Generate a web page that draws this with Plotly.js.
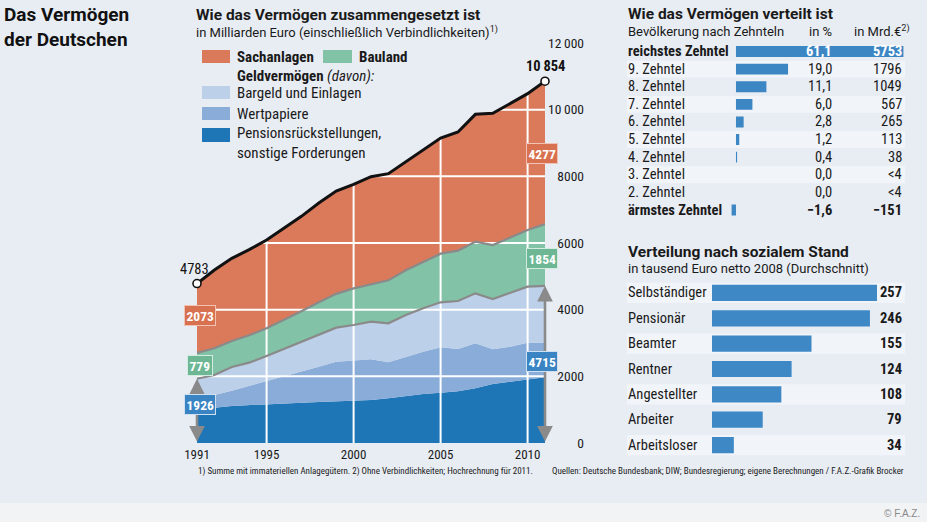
<!DOCTYPE html>
<html><head><meta charset="utf-8">
<script src="https://cdn.plot.ly/plotly-3.0.1.min.js"></script>
<style>html,body{margin:0;padding:0;background:#e8edf4;}#chart{width:927px;height:522px;}</style>
</head><body><div id="chart"></div>
<script>
// ---------- data ----------
const years = [1991,1992,1993,1994,1995,1996,1997,1998,1999,2000,2001,2002,2003,2004,2005,2006,2007,2008,2009,2010,2011];
const pensions    = [970,1060,1110,1140,1170,1190,1210,1230,1250,1260,1290,1340,1410,1470,1510,1550,1640,1770,1840,1910,1970];
const wertpapiere = [370,380,460,570,700,810,930,1060,1190,1220,1220,1080,1180,1270,1360,1270,1350,1040,1050,1100,1040];
const bargeld     = [586,600,710,700,740,820,890,960,1020,1060,1130,1170,1250,1300,1350,1440,1500,1510,1620,1680,1705];
const bauland     = [779,800,780,820,830,870,920,970,1015,1100,1120,1290,1340,1400,1460,1510,1550,1620,1660,1700,1854];
const sachanlagen = [2078,2350,2480,2570,2650,2750,2850,2980,3085,3120,3230,3200,3260,3360,3470,3560,3820,3950,4020,4090,4285];
const total       = [4783,5190,5540,5800,6090,6440,6800,7200,7560,7760,7990,8080,8440,8800,9150,9330,9860,9890,10190,10480,10854];
const startLabels = {sach:'2073', bau:'779', geld:'1926', total:'4783'};
const endLabels   = {sach:'4277', bau:'1854', geld:'4715', total:'10\u2009854'};
const xTicks = [1991,1995,2000,2005,2010];
const yTicks = [0,2000,4000,6000,8000,10000,12000];
const yTickText = ['0','2000','4000','6000','8000','10\u2009000','12\u2009000'];

const deciles = ['reichstes Zehntel','9. Zehntel','8. Zehntel','7. Zehntel','6. Zehntel','5. Zehntel','4. Zehntel','3. Zehntel','2. Zehntel','ärmstes Zehntel'];
const decilePct = [61.1,19.0,11.1,6.0,2.8,1.2,0.4,0.0,0.0,-1.6];
const decilePctText = ['61,1','19,0','11,1','6,0','2,8','1,2','0,4','0,0','0,0','\u22121,6'];
const decileMrdText = ['5753','1796','1049','567','265','113','38','&lt;4','&lt;4','\u2212151'];

const groups = ['Selbständiger','Pensionär','Beamter','Rentner','Angestellter','Arbeiter','Arbeitsloser'];
const groupValues = [257,246,155,124,108,79,34];

// ---------- styling ----------
const W = 927, H = 522;
const BG = '#e8edf4';
const COND = "'Roboto Condensed', Roboto, sans-serif";
const ROB = "Roboto, sans-serif";
const TXT = '#1a1a1a';
const C = {sach:'#db7a5b', bau:'#82c2a6', bar:'#bdd0e9', wp:'#89acd8', pen:'#1f76b6'};
const px = v => v / W;
const py = v => 1 - v / H;
const last = years.length - 1;
const yTop = yTicks[yTicks.length - 1];

const traces = [];
// stacked areas
[[pensions,C.pen],[wertpapiere,C.wp],[bargeld,C.bar],[bauland,C.bau],[sachanlagen,C.sach]].forEach(([v,c])=>{
  traces.push({x:years, y:v, type:'scatter', mode:'lines', stackgroup:'areas', line:{width:0}, fillcolor:c, hoverinfo:'skip'});
});
// white grid lines over the areas
xTicks.slice(1).forEach(v=>traces.push({x:[v,v], y:[0,yTop], type:'scatter', mode:'lines', line:{color:'#ffffff', width:2}, hoverinfo:'skip'}));
yTicks.slice(1,-1).forEach(v=>traces.push({x:[years[0],years[last]], y:[v,v], type:'scatter', mode:'lines', line:{color:'#ffffff', width:2}, hoverinfo:'skip'}));
// mask above the total so grid only shows inside the areas
traces.push({x:years, y:total, type:'scatter', mode:'lines', line:{width:0}, hoverinfo:'skip'});
traces.push({x:years, y:years.map(()=>yTop), type:'scatter', mode:'lines', line:{width:0}, fill:'tonexty', fillcolor:BG, hoverinfo:'skip'});
// outline lines
[[pensions,0,'#000'],[wertpapiere,0,'#000'],[bargeld,2.2,'#8a8a8a'],[bauland,2.2,'#8a8a8a'],[sachanlagen,3,'#111']].forEach(([v,w,c])=>{
  traces.push({x:years, y:v, type:'scatter', mode:'lines', stackgroup:'outline', fill:'none', line:{width:w, color:c}, cliponaxis:false, hoverinfo:'skip'});
});
traces.push({x:[years[0],years[last]], y:[total[0],total[last]], type:'scatter', mode:'markers', cliponaxis:false,
  marker:{size:8, color:'#ffffff', line:{color:'#111', width:1.6}}, hoverinfo:'skip'});
// dummy trace for the label axis
traces.push({x:[years[0]], y:[0], xaxis:'x', yaxis:'y2', type:'scatter', mode:'markers', marker:{opacity:0}, hoverinfo:'skip'});

// decile bars
traces.push({type:'bar', orientation:'h', x:decilePct, y:deciles.map((_,i)=>i), xaxis:'x2', yaxis:'y3',
  marker:{color:'#3d86c4'}, width:0.62, hoverinfo:'skip'});
// social groups bars
traces.push({type:'bar', orientation:'h', x:groupValues, y:groups.map((_,i)=>i), xaxis:'x3', yaxis:'y4',
  marker:{color:'#3e88c6'}, width:0.64, hoverinfo:'skip'});

// ---------- shapes ----------
const shapes = [];
shapes.push({type:'rect', xref:'paper', yref:'paper', x0:0, x1:1, y0:0, y1:py(503), fillcolor:'#f2f3f5', line:{width:0}, layer:'below'});
deciles.forEach((_,i)=>{ if(i%2===1 && i<9) shapes.push({type:'rect', xref:'paper', yref:'y3', x0:px(627), x1:px(905), y0:i-0.48, y1:i+0.48, fillcolor:'#f1f4f9', line:{width:0}, layer:'below'}); });
groups.forEach((_,i)=>{ if(i%2===0) shapes.push({type:'rect', xref:'paper', yref:'y4', x0:px(627), x1:px(905), y0:i-0.4, y1:i+0.4, fillcolor:'#f1f4f9', line:{width:0}, layer:'below'}); });
const sw = (x0,y0,x1,y1,c)=>shapes.push({type:'rect', xref:'paper', yref:'paper', x0:px(x0), x1:px(x1), y0:py(y1), y1:py(y0), fillcolor:c, line:{width:0}, layer:'above'});
sw(202,50,230,63,C.sach); sw(323,50,352,63,C.bau);
sw(202,86,230,99,C.bar); sw(202,107,230,120,C.wp); sw(202,128,230,142,C.pen);

// ---------- annotations ----------
const ann = [];
const T = (text, x, y, o={}) => ann.push(Object.assign({text, xref:'paper', yref:'paper', x:px(x), y:py(y), xanchor:'left', yanchor:'middle', align:'left', showarrow:false,
  font:{family:COND, size:14.5, color:TXT}}, o));
// page title
T('<b>Das Vermögen<br>der Deutschen</b>', 2, 1, {yanchor:'top', font:{family:ROB, size:19, color:'#111'}});
// main chart titles
T('<b>Wie das Vermögen zusammengesetzt ist</b>', 194, 15, {font:{family:ROB, size:15.5, color:TXT}});
T('in Milliarden Euro (einschließlich Verbindlichkeiten)<sup>1)</sup>', 194, 32, {font:{family:ROB, size:13, color:TXT}});
// legend
T('<b>Sachanlagen</b>', 235, 57, {font:{family:COND, size:15, color:TXT}});
T('<b>Bauland</b>', 357, 57, {font:{family:COND, size:15, color:TXT}});
T('<b>Geldvermögen</b> <i>(davon):</i>', 235, 76, {font:{family:COND, size:15, color:TXT}});
T('Bargeld und Einlagen', 235, 93, {font:{family:COND, size:15, color:TXT}});
T('Wertpapiere', 235, 114, {font:{family:COND, size:15, color:TXT}});
T('Pensionsrückstellungen,<br>sonstige Forderungen', 235, 143, {font:{family:COND, size:15, color:TXT}});

// arrows for Geldvermögen
const geld0 = pensions[0]+wertpapiere[0]+bargeld[0];
const geldN = pensions[last]+wertpapiere[last]+bargeld[last];
[[years[0],geld0],[years[last],geldN]].forEach(([x,y])=>ann.push({x, y, ax:x, ay:0, xref:'x', yref:'y', axref:'x', ayref:'y', text:'', showarrow:true,
  arrowhead:2, arrowside:'end+start', arrowsize:1.2, arrowwidth:2.6, arrowcolor:'#8a8a8a', standoff:0, startstandoff:0}));

const box = (text, x, y, bg, bc, xs, ys) => ann.push({text:'<b>'+text+'</b>', x, y, xref:'x', yref:'y', showarrow:false, xshift:xs, yshift:ys,
  font:{family:COND, size:13.5, color:'#ffffff'}, bgcolor:bg, bordercolor:bc, borderwidth:1, borderpad:1.5});
const bauTop0 = geld0 + bauland[0], bauTopN = geldN + bauland[last];
box(startLabels.sach, years[0], bauTop0 + sachanlagen[0]/2, '#d8714f', '#f2c3b2', 3, 3);
box(startLabels.bau, years[0], geld0 + bauland[0]/2, '#6db795', '#d3ece1', 3, 0);
box(startLabels.geld, years[0], geld0/2, '#3a84c4', '#cfe0f1', 3, 6);
box(endLabels.sach, years[last], bauTopN + sachanlagen[last]/2, '#d8714f', '#f2c3b2', -3, -1);
box(endLabels.bau, years[last], geldN + bauland[last]/2, '#6db795', '#d3ece1', -3, -4);
box(endLabels.geld, years[last], geldN/2, '#3a84c4', '#cfe0f1', -3, 3);
ann.push({text:startLabels.total, x:years[0], y:total[0], xref:'x', yref:'y', showarrow:false, yanchor:'bottom', xshift:-3, yshift:4,
  font:{family:COND, size:14.5, color:'#111'}});
ann.push({text:'<b>'+endLabels.total+'</b>', x:years[last], y:total[last], xref:'x', yref:'y', showarrow:false, yanchor:'bottom', xshift:0, yshift:4,
  font:{family:COND, size:14.5, color:'#111'}});

// right top table
T('<b>Wie das Vermögen verteilt ist</b>', 626, 14, {font:{family:ROB, size:15.5, color:TXT}});
T('Bevölkerung nach Zehnteln', 626, 32, {font:{family:ROB, size:13, color:TXT}});
T('in %', 834, 32, {xanchor:'right', font:{family:ROB, size:13, color:TXT}});
T('in Mrd.€<sup>2)</sup>', 912, 31, {xanchor:'right', font:{family:ROB, size:13, color:TXT}});
deciles.forEach((d,i)=>{
  const strong = (i===0 || i===deciles.length-1);
  const wrap = s => strong ? '<b>'+s+'</b>' : s;
  const col = i===0 ? '#ffffff' : TXT;
  ann.push({text:wrap(d), xref:'paper', yref:'y3', x:px(626), y:i, xanchor:'left', yanchor:'middle', showarrow:false, font:{family:COND, size:14.5, color:TXT}});
  ann.push({text:wrap(decilePctText[i]), xref:'paper', yref:'y3', x:px(834), y:i, xanchor:'right', yanchor:'middle', showarrow:false, font:{family:COND, size:14.5, color:col}});
  ann.push({text:wrap(decileMrdText[i]), xref:'paper', yref:'y3', x:px(904), y:i, xanchor:'right', yanchor:'middle', showarrow:false, font:{family:COND, size:14.5, color:col}});
});

// right bottom table
T('<b>Verteilung nach sozialem Stand</b>', 626, 252, {font:{family:ROB, size:15.5, color:TXT}});
T('in tausend Euro netto 2008 (Durchschnitt)', 626, 268, {font:{family:ROB, size:13, color:TXT}});
groups.forEach((g,i)=>{
  ann.push({text:g, xref:'paper', yref:'y4', x:px(626), y:i, xanchor:'left', yanchor:'middle', showarrow:false, font:{family:COND, size:14.5, color:TXT}});
  ann.push({text:'<b>'+groupValues[i]+'</b>', xref:'paper', yref:'y4', x:px(904), y:i, xanchor:'right', yanchor:'middle', showarrow:false, font:{family:COND, size:14.5, color:TXT}});
});

// footnotes
T('1) Summe mit immateriellen Anlagegütern. 2) Ohne Verbindlichkeiten; Hochrechnung für 2011.', 196, 471, {font:{family:COND, size:9, color:TXT}});
T('Quellen: Deutsche Bundesbank; DIW; Bundesregierung; eigene Berechnungen / F.A.Z.-Grafik Brocker', 550, 471, {font:{family:COND, size:9, color:TXT}});
T('© F.A.Z.', 922, 513, {xanchor:'right', font:{family:"'Liberation Sans', sans-serif", size:10, color:'#8a8a8a'}});

// ---------- layout ----------
const hidden = {showgrid:false, zeroline:false, showticklabels:false, showline:false, ticks:'', fixedrange:true};
const layout = {
  width:W, height:H, margin:{l:0,r:0,t:0,b:0},
  paper_bgcolor:BG, plot_bgcolor:'rgba(0,0,0,0)', showlegend:false,
  xaxis:{domain:[px(197),px(545)], range:[years[0],years[last]], anchor:'y', tickvals:xTicks, ticktext:xTicks.map(String),
    showgrid:false, zeroline:false, showline:false, ticks:'', ticklabelstandoff:2, tickfont:{family:COND, size:13, color:TXT}, fixedrange:true},
  yaxis:Object.assign({domain:[py(443),py(43)], range:[0,yTop], anchor:'x'}, hidden),
  yaxis2:{overlaying:'y', anchor:'free', position:px(584), side:'left', range:[0,yTop], tickvals:yTicks, ticktext:yTickText,
    showgrid:false, zeroline:false, showline:false, ticks:'', tickfont:{family:COND, size:13.5, color:TXT}, fixedrange:true},
  xaxis2:Object.assign({domain:[px(730.5),px(905.9)], range:[-2,62], anchor:'y3'}, hidden),
  yaxis3:Object.assign({domain:[py(218.8),py(42.7)], range:[9.5,-0.5], anchor:'x2'}, hidden),
  xaxis3:Object.assign({domain:[px(712),px(904.6)], range:[0,300], anchor:'y4'}, hidden),
  yaxis4:Object.assign({domain:[py(457.7),py(280.3)], range:[6.5,-0.5], anchor:'x3'}, hidden),
  shapes, annotations:ann, hovermode:false
};
Plotly.newPlot('chart', traces, layout, {displayModeBar:false, staticPlot:true});
</script>
</body></html>
